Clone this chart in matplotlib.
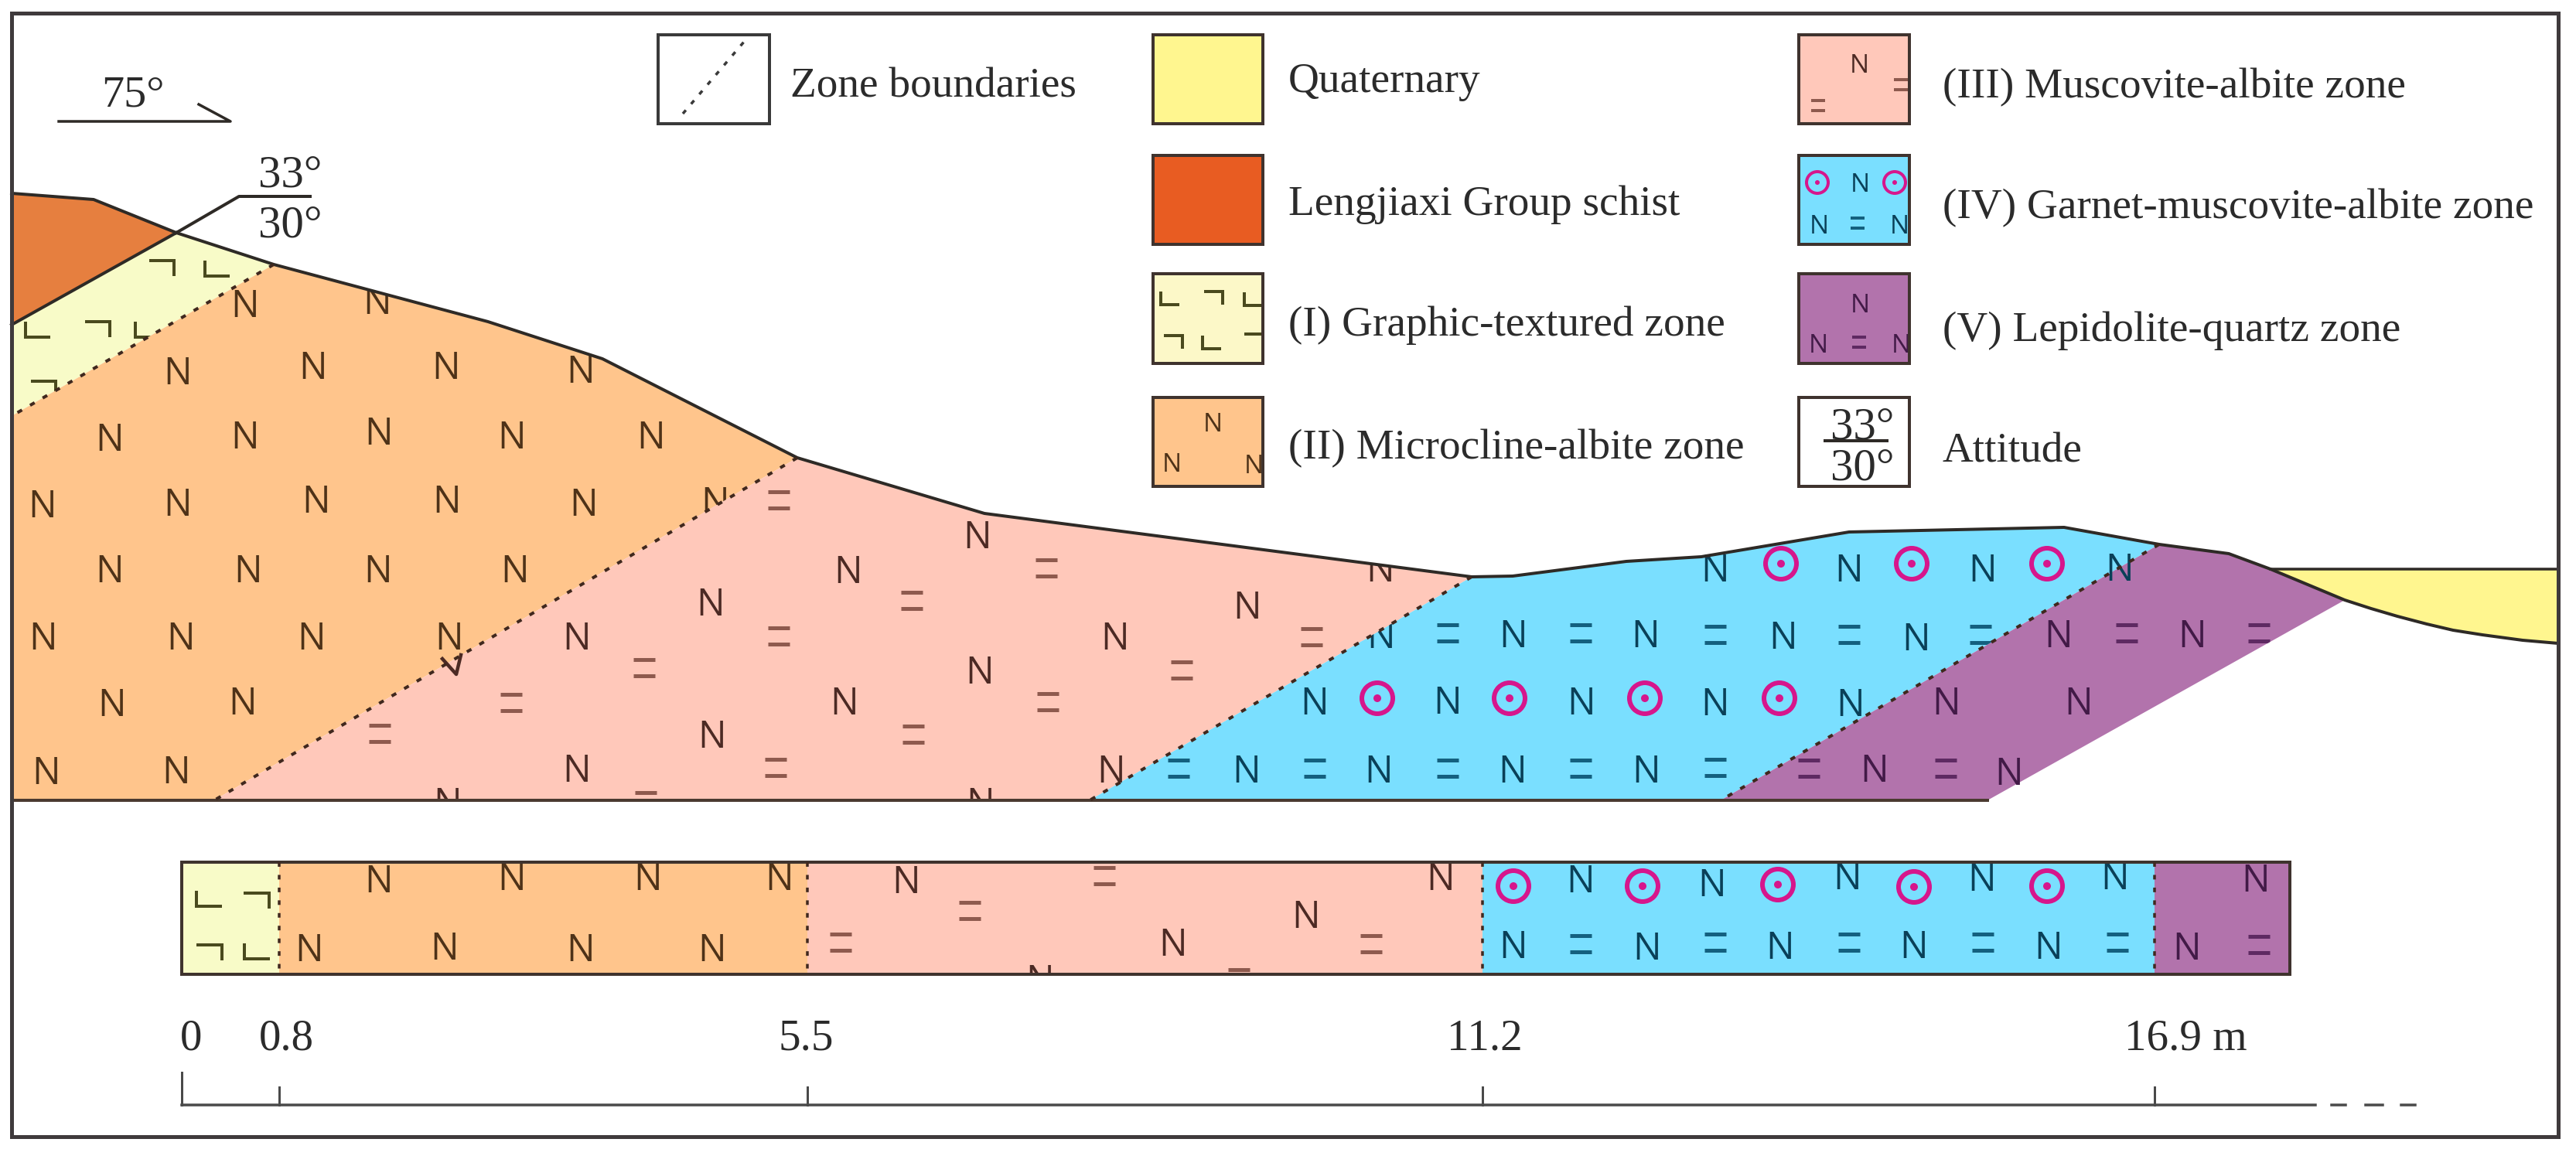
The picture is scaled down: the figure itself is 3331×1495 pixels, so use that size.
import matplotlib
matplotlib.use("Agg")
import matplotlib.pyplot as plt
from matplotlib.patches import Polygon, Rectangle, Circle

W, H = 3331, 1495

schist_poly = [(15, 250), (121, 258), (228, 301), (15, 420)]
zone1_poly = [(228, 301), (354, 342), (15, 538), (15, 420)]
zone2_poly = [(15, 538), (354, 342), (631, 416), (779, 464), (1031, 592), (277, 1035), (15, 1035)]
zone3_poly = [(277, 1035), (1031, 592), (1273, 664), (1903, 746), (1409, 1035)]
zone4_poly = [(1409, 1035), (1903, 746), (1956, 745), (2103, 726), (2200, 720), (2391, 688),
              (2669, 682), (2792, 704), (2225, 1035)]
zone5_poly = [(2225, 1035), (2792, 704), (2882, 716), (2936, 736), (3032, 776), (2570, 1035)]
quat_poly = [(2936, 736), (3308, 736), (3308, 832), (3262, 828), (3210, 821), (3172, 815), (3138, 807),
             (3100, 797), (3066, 787), (3032, 776)]

terrain = [(15, 250), (121, 258), (228, 301), (354, 342), (631, 416), (779, 464), (1031, 592),
           (1273, 664), (1903, 746), (1956, 745), (2103, 726), (2200, 720), (2391, 688),
           (2669, 682), (2792, 704), (2882, 716), (2936, 736), (3032, 776), (3066, 787),
           (3100, 797), (3138, 807), (3172, 815), (3210, 821), (3262, 828), (3308, 832)]
boundaries = [[(354, 342), (15, 538)], [(1031, 592), (277, 1035)],
              [(1903, 746), (1409, 1035)], [(2792, 704), (2225, 1035)]]

# section marks
z1_ang_r = [(209, 347), (126, 426), (56, 503)]
z1_ang_l = [(281, 347), (49, 426), (191, 426)]
z2_n = [(317, 391), (488, 387), (230, 478), (405, 471), (577, 471), (751, 476),
        (142, 564), (317, 561), (490, 556), (662, 561), (842, 561),
        (55, 650), (230, 648), (409, 644), (578, 644), (755, 648), (925, 646),
        (142, 734), (321, 734), (489, 734), (666, 734),
        (56, 821), (234, 821), (403, 821), (581, 821),
        (145, 907), (314, 905), (60, 995), (228, 994)]
z3_n = [(746, 821), (919, 777), (1097, 735), (1264, 690), (1785, 733),
        (1613, 781), (1442, 821), (1267, 865), (1092, 905), (921, 948), (746, 992),
        (579, 1035), (1268, 1035), (1437, 993)]
z3_n_fragment = [(572, 852), (590, 872), (596, 847)]
z3_eq = [(1007, 646), (1007, 822), (833, 863), (661, 908), (491, 948), (1003, 992), (835, 1035),
         (1353, 734), (1179, 776), (1696, 823), (1528, 866), (1355, 907), (1181, 949)]
z4_n = [(2218, 733), (2391, 733), (2564, 733), (2741, 732),
        (1786, 819), (1957, 818), (2128, 818), (2306, 820), (2478, 822),
        (1700, 905), (1872, 904), (2045, 905), (2218, 906), (2393, 907),
        (1612, 993), (1783, 993), (1956, 993), (2129, 993)]
z4_eq = [(1872, 818), (2044, 818), (2218, 820), (2391, 820), (2561, 820),
         (1524, 993), (1700, 993), (1872, 993), (2044, 993), (2218, 992)]
z4_garnet = [(2303, 729), (2472, 729), (2647, 729), (1781, 903), (1952, 903), (2127, 903), (2301, 903)]
z5_n = [(2662, 818), (2835, 818), (2517, 905), (2688, 905), (2424, 992), (2598, 996)]
z5_eq = [(2750, 818), (2921, 818), (2339, 993), (2516, 993)]

# strip under the section
strip_top, strip_bottom = 1115, 1260
strip_x = [235, 361, 1044, 1917, 2786, 2961]
strip_ang_r = [(331, 1165), (270, 1232)]
strip_ang_l = [(270, 1162), (332, 1230)]
strip2_n = [(490, 1135), (662, 1132), (838, 1132), (1008, 1132), (400, 1224), (575, 1222), (751, 1224), (921, 1224)]
strip3_n = [(1172, 1136), (1689, 1181), (1863, 1132), (1517, 1217), (1345, 1264)]
strip3_eq = [(1428, 1132), (1254, 1177), (1773, 1220), (1602, 1264), (1087, 1218)]
strip4_n = [(2044, 1135), (2214, 1140), (2389, 1131), (2563, 1133), (2735, 1131),
            (1957, 1220), (2130, 1222), (2302, 1221), (2475, 1220), (2649, 1221)]
strip4_eq = [(2044, 1220), (2218, 1218), (2391, 1218), (2564, 1218), (2738, 1218)]
strip4_garnet = [(1957, 1146), (2124, 1146), (2299, 1144), (2475, 1147), (2647, 1146)]
strip5_n = [(2917, 1134), (2828, 1222)]
strip5_eq = [(2921, 1221)]

# scale bar
scale_y = 1429
scale_ticks = [235, 361, 1044, 1917, 2786]
scale_labels = ["0", "0.8", "5.5", "11.2", "16.9 m"]
scale_label_x = [247, 370, 1042, 1920, 2826]
scale_dashes = [(3015, 3033), (3059, 3081), (3105, 3123)]

# legend
col_boxes = [(851, 995), (1491, 1633), (2326, 2469)]
row_boxes = [(45, 160), (201, 316), (354, 470), (514, 629)]
col2_labels = ["Quaternary", "Lengjiaxi Group schist", "(I) Graphic-textured zone", "(II) Microcline-albite zone"]
col2_label_y = [100, 259, 415, 574]
col3_labels = ["(III) Muscovite-albite zone", "(IV) Garnet-muscovite-albite zone",
               "(V) Lepidolite-quartz zone", "Attitude"]
col3_label_y = [107, 263, 422, 578]

YELLOW = "#FFF68F"
SCHIST = "#E67F3F"
SCHIST_LEG = "#E85C22"
Z1 = "#F8FBC8"
Z1_LEG = "#FCF8C8"
Z2 = "#FFC58C"
Z3 = "#FFC8BA"
Z4 = "#7ADFFF"
Z5 = "#B273AC"
LINE = "#2E2A26"
MAGENTA = "#D6168C"

N_ORANGE, N_PINK, N_BLUE, N_PURPLE = "#4E3218", "#4C2A24", "#0A4058", "#421A47"
EQ_PINK, EQ_BLUE, EQ_PURPLE = "#8E5A4E", "#14607F", "#5E2A62"
ANG = "#4A4A1E"

fig = plt.figure(figsize=(W / 100, H / 100), dpi=100)
ax = fig.add_axes([0, 0, 1, 1])
ax.set_xlim(0, W)
ax.set_ylim(H, 0)
ax.axis("off")


def px(v):
    return v * 0.72


def patch(pts, color, zorder=1):
    p = Polygon(pts, closed=True, facecolor=color, edgecolor="none", zorder=zorder)
    ax.add_patch(p)
    return p


def box(x0, x1, y0, y1, color, zorder=1):
    return patch([(x0, y0), (x1, y0), (x1, y1), (x0, y1)], color, zorder)


def draw_n(points, color, size=35):
    for x, y in points:
        ax.text(x, y, "N", family="Open Sans", fontsize=size, color=color, ha="center",
                va="center_baseline", zorder=2)


def draw_eq(points, color, clip, w=28, gap=21, lw=5):
    for x, y in points:
        for dy in (-gap / 2, gap / 2):
            ax.plot([x - w / 2, x + w / 2], [y + dy, y + dy], color=color, lw=px(lw),
                    solid_capstyle="butt", zorder=2, clip_path=clip)


def draw_garnet(points, clip, r=20, lw=6, dot=5):
    for x, y in points:
        ax.add_patch(Circle((x, y), r, facecolor="none", edgecolor=MAGENTA, lw=px(lw), zorder=2, clip_path=clip))
        ax.add_patch(Circle((x, y), dot, facecolor=MAGENTA, edgecolor="none", zorder=2, clip_path=clip))


def draw_angle(points, kind, clip, w=32, h=20, lw=4):
    for x, y in points:
        if kind == "L":
            xs, ys = [x - w / 2, x - w / 2, x + w / 2], [y - h / 2, y + h / 2, y + h / 2]
        else:
            xs, ys = [x - w / 2, x + w / 2, x + w / 2], [y - h / 2, y - h / 2, y + h / 2]
        ax.plot(xs, ys, color=ANG, lw=px(lw), solid_joinstyle="miter", solid_capstyle="butt",
                zorder=2, clip_path=clip)


def cut_letter(poly, color, x, y):
    # agg ignores clip paths on text, so cover the part of a letter that leaves its zone
    window = Polygon([(x - 24, y - 24), (x + 24, y - 24), (x + 24, y + 24), (x - 24, y + 24)],
                     transform=ax.transData)
    ax.add_patch(Polygon(poly, closed=True, facecolor=color, edgecolor="none", zorder=3, clip_path=window))


def serif(x, y, s, size=39.8, ha="left", color="#2B2B2B"):
    ax.text(x, y, s, family="Liberation Serif", fontsize=size, color=color, ha=ha,
            va="center_baseline", zorder=5)


def dotted(xs, ys, color="#40281E", lw=4):
    ax.plot(xs, ys, color=color, lw=px(lw), ls=(0, (1.7, 3)), zorder=4)


# section
patch(quat_poly, YELLOW)
patch(schist_poly, SCHIST)
c1 = patch(zone1_poly, Z1)
c2 = patch(zone2_poly, Z2)
c3 = patch(zone3_poly, Z3)
c4 = patch(zone4_poly, Z4)
c5 = patch(zone5_poly, Z5)

draw_angle(z1_ang_r, "R", c1)
draw_angle(z1_ang_l, "L", c1)
draw_n(z2_n, N_ORANGE)
draw_n(z3_n, N_PINK)
ax.plot(*zip(*z3_n_fragment), color=N_PINK, lw=px(4.5), zorder=2)
draw_eq(z3_eq, EQ_PINK, c3)
draw_n(z4_n, N_BLUE)
draw_eq(z4_eq, EQ_BLUE, c4)
draw_garnet(z4_garnet, c4)
draw_n(z5_n, N_PURPLE)
draw_eq(z5_eq, EQ_PURPLE, c5)

sky = terrain + [(3308, 0), (15, 0)]
for x, y in [(488, 387), (1264, 690), (1785, 733)]:
    cut_letter(sky, "white", x, y)
cut_letter(zone3_poly, Z3, 925, 646)
cut_letter(zone3_poly, Z3, 1786, 819)
box(15, 2570, 1036, 1100, "white", zorder=3)
box(235, 2961, strip_bottom + 1, 1300, "white", zorder=3)

ax.plot(*zip(*terrain), color=LINE, lw=px(4), zorder=4, solid_joinstyle="round")
ax.plot([228, 15], [301, 420], color=LINE, lw=px(4), zorder=4)
ax.plot([2936, 3308], [736, 736], color=LINE, lw=px(3.5), zorder=4)
ax.plot([15, 2570], [1035, 1035], color="#4A3A30", lw=px(4), zorder=4)
for b in boundaries:
    dotted(*zip(*b))

# direction arrow and attitude
ax.plot([76, 298, 257], [157, 157, 135], color=LINE, lw=px(3.5), zorder=4)
serif(172, 118, "75°", size=42, ha="center")
ax.plot([228, 309, 401], [301, 254, 254], color=LINE, lw=px(4), zorder=4)
serif(375, 221, "33°", size=42.5, ha="center")
serif(375, 286, "30°", size=42.5, ha="center")

# strip
s_colors = [Z1, Z2, Z3, Z4, Z5]
s_clips = []
for i, c in enumerate(s_colors):
    s_clips.append(box(strip_x[i], strip_x[i + 1], strip_top, strip_bottom, c))
draw_angle(strip_ang_r, "R", s_clips[0], w=33)
draw_angle(strip_ang_l, "L", s_clips[0], w=33)
draw_n(strip2_n, N_ORANGE)
draw_n(strip3_n, N_PINK)
draw_eq(strip3_eq, EQ_PINK, s_clips[2])
draw_n(strip4_n, N_BLUE)
draw_eq(strip4_eq, EQ_BLUE, s_clips[3])
draw_garnet(strip4_garnet, s_clips[3])
draw_n(strip5_n, N_PURPLE)
draw_eq(strip5_eq, EQ_PURPLE, s_clips[4])
ax.add_patch(Rectangle((strip_x[0], strip_top), strip_x[-1] - strip_x[0], strip_bottom - strip_top,
                       facecolor="none", edgecolor="#3F332E", lw=px(4), zorder=4))
for x in strip_x[1:-1]:
    dotted([x, x], [strip_top, strip_bottom], lw=3.5)

# scale bar
ax.plot([scale_ticks[0], 2994], [scale_y, scale_y], color="#4A4A4A", lw=px(3.5), zorder=4)
ax.plot([scale_ticks[0], scale_ticks[0]], [1387, scale_y], color="#4A4A4A", lw=px(3), zorder=4)
for x in scale_ticks[1:]:
    ax.plot([x, x], [1406, scale_y], color="#4A4A4A", lw=px(3), zorder=4)
for a, b in scale_dashes:
    ax.plot([a, b], [scale_y, scale_y], color="#4A4A4A", lw=px(3.5), zorder=4)
for x, s in zip(scale_label_x, scale_labels):
    serif(x, 1338, s, size=41, ha="center")

# legend boxes
x0, x1 = col_boxes[0]
y0, y1 = row_boxes[0]
ax.add_patch(Rectangle((x0, y0), x1 - x0, y1 - y0, facecolor="white", edgecolor="#3A3A3A", lw=px(4), zorder=3))
dotted([883, 968], [147, 47], color="#3A3A3A", lw=3.5)
serif(1022, 106, "Zone boundaries")

leg = {}
for col, colors in ((1, [YELLOW, SCHIST_LEG, Z1_LEG, Z2]), (2, [Z3, Z4, Z5, "white"])):
    x0, x1 = col_boxes[col]
    for row, c in enumerate(colors):
        y0, y1 = row_boxes[row]
        leg[(col, row)] = box(x0, x1, y0, y1, c)
        ax.add_patch(Rectangle((x0, y0), x1 - x0, y1 - y0, facecolor="none", edgecolor="#3F332E", lw=px(4), zorder=4))
    # letters that run over the right edge of a swatch
    box(x1 + 1, x1 + 24, row_boxes[0][0], row_boxes[-1][1], "white", zorder=3)

draw_angle([(1513, 385), (1621, 386), (1567, 442)], "L", leg[(1, 2)], w=24, h=17)
draw_angle([(1569, 385), (1517, 442), (1621, 440)], "R", leg[(1, 2)], w=24, h=17)
draw_n([(1568, 545), (1515, 598), (1621, 600)], N_ORANGE, size=24)
draw_n([(2404, 82)], N_PINK, size=24)
draw_eq([(2458, 109), (2351, 136)], EQ_PINK, leg[(2, 0)], w=18, gap=13, lw=4)
draw_n([(2405, 235), (2352, 290), (2456, 290)], N_BLUE, size=24)
draw_eq([(2402, 288)], EQ_BLUE, leg[(2, 1)], w=18, gap=13, lw=4)
draw_garnet([(2350, 236), (2450, 236)], leg[(2, 1)], r=14, lw=4, dot=3)
draw_n([(2405, 391), (2351, 444), (2458, 444)], N_PURPLE, size=24)
draw_eq([(2404, 442)], EQ_PURPLE, leg[(2, 2)], w=18, gap=13, lw=4)
serif(2408, 547, "33°", size=42.5, ha="center")
serif(2408, 600, "30°", size=42.5, ha="center")
ax.plot([2360, 2440], [570, 570], color=LINE, lw=px(4), zorder=5)

for s, y in zip(col2_labels, col2_label_y):
    serif(1666, y, s)
for s, y in zip(col3_labels, col3_label_y):
    serif(2512, y, s)

# frame
ax.add_patch(Rectangle((15, 17), 3308 - 15, 1470 - 17, facecolor="none", edgecolor="#3F3A3C", lw=px(5), zorder=6))

fig.savefig("out.png", dpi=100)
